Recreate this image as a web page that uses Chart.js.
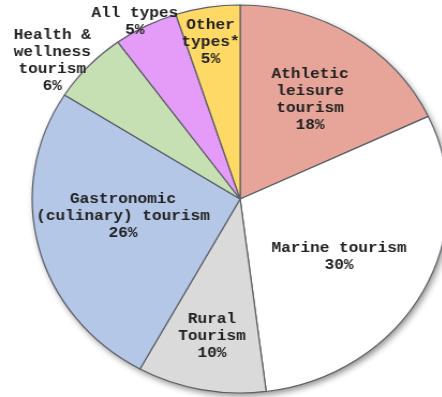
<!DOCTYPE html>
<html>
<head>
<meta charset="utf-8">
<script src="https://cdn.jsdelivr.net/npm/chart.js@4/dist/chart.umd.min.js"></script>
<style>
  html, body { margin: 0; padding: 0; background: #ffffff; overflow: hidden; }
  #wrap { width: 442px; height: 397px; overflow: hidden; position: relative; }
  #stage { position: absolute; left: 0; top: 0; transform: scaleX(1.072); transform-origin: 0 0; }
</style>
</head>
<body>
<div id="wrap"><div id="stage"><canvas id="pie" width="420" height="397"></canvas></div></div>
<script>
// Share of tourism types (%), clockwise from 12 o'clock
const categories = [
  ["Athletic", "leisure", "tourism"],
  ["Marine tourism"],
  ["Rural", "Tourism"],
  ["Gastronomic", "(culinary) tourism"],
  ["Health &", "wellness", "tourism"],
  ["All types"],
  ["Other", "types*"]
];
const shares = [18, 30, 10, 26, 6, 5, 5];
const sliceColors = ["#E6A598", "#FFFFFF", "#DADADA", "#B4C7E7", "#C6E0B4", "#E49CF8", "#FFD966"];

// Label placement: distance from centre as a fraction of the radius,
// and a small angular nudge (degrees) from the slice's mid-angle.
const labelRadius = [0.61, 0.56, 0.72, 0.57, 1.15, 1.045, 0.82];
const labelNudge  = [1, 3, 0, 5.6, -5, -2, -1];

const pieShadow = {
  id: "pieShadow",
  beforeDatasetsDraw(chart) {
    const arc = chart.getDatasetMeta(0).data[0];
    if (!arc) return;
    const ctx = chart.ctx;
    ctx.save();
    ctx.shadowColor = "rgba(0,0,0,0.45)";
    ctx.shadowBlur = 6;
    ctx.shadowOffsetX = 2;
    ctx.shadowOffsetY = 3;
    ctx.fillStyle = "#ffffff";
    ctx.beginPath();
    ctx.arc(arc.x, arc.y, arc.outerRadius, 0, Math.PI * 2);
    ctx.fill();
    ctx.restore();
  }
};

const sliceLabels = {
  id: "sliceLabels",
  afterDatasetsDraw(chart) {
    const ctx = chart.ctx;
    const arcs = chart.getDatasetMeta(0).data;
    const lineH = 17;
    ctx.save();
    ctx.font = "bold 15px 'Liberation Mono', 'Courier New', monospace";
    ctx.fillStyle = "#222222";
    ctx.textAlign = "center";
    ctx.textBaseline = "middle";
    arcs.forEach((arc, i) => {
      const mid = (arc.startAngle + arc.endAngle) / 2 + labelNudge[i] * Math.PI / 180;
      const r = arc.outerRadius * labelRadius[i];
      const x = arc.x + Math.cos(mid) * r;
      const y = arc.y + Math.sin(mid) * r;
      const lines = categories[i].concat([shares[i] + "%"]);
      const top = y - (lines.length - 1) * lineH / 2;
      lines.forEach((t, k) => ctx.fillText(t, x, top + k * lineH));
    });
    ctx.restore();
  }
};

new Chart(document.getElementById("pie"), {
  type: "pie",
  data: {
    labels: categories.map(c => c.join(" ")),
    datasets: [{
      data: shares,
      backgroundColor: sliceColors,
      borderColor: "#5a5e66",
      borderWidth: 1.2,
      hoverOffset: 0,
      radius: 194
    }]
  },
  options: {
    responsive: false,
    animation: false,
    layout: { padding: { left: 28, right: 0, top: 1, bottom: 0 } },
    plugins: {
      legend: { display: false },
      tooltip: { enabled: false }
    }
  },
  plugins: [pieShadow, sliceLabels]
});
</script>
</body>
</html>
